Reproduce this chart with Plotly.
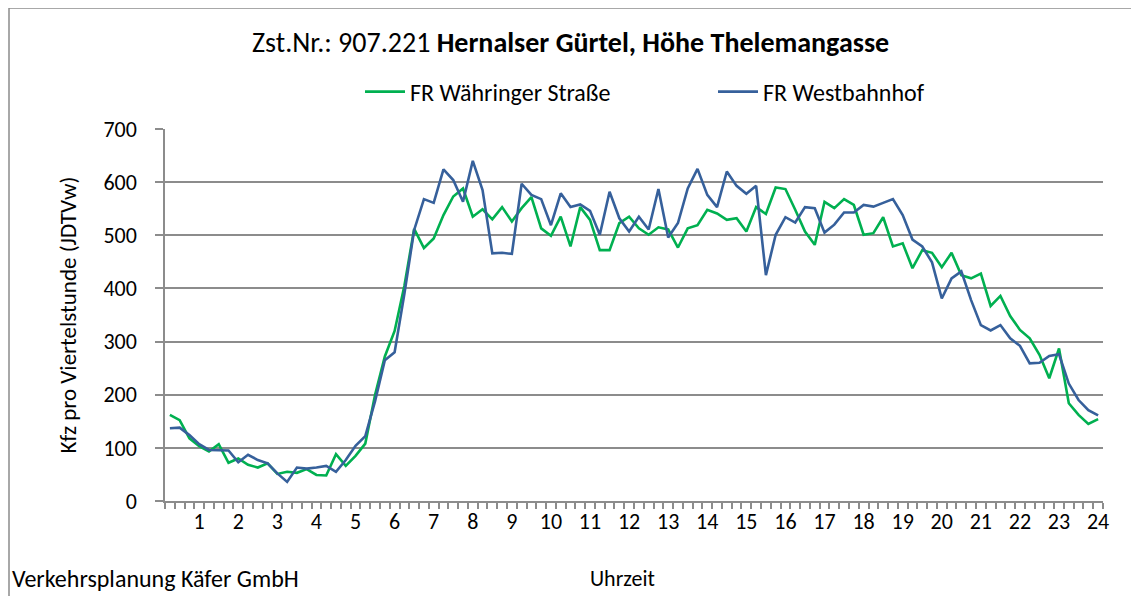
import plotly.graph_objects as go

# quarter-hour slots: 0:15 ... 24:00 (in hours)
quarter_hours = [q / 4 for q in range(1, 97)]

hour_ticks = list(range(1, 25))
hour_labels = [str(h) for h in hour_ticks]

fr_waehringer = [
    162, 152, 118, 103, 93, 107, 72, 80, 68, 63, 71, 51,
    55, 53, 60, 49, 48, 88, 66, 85, 108, 200, 272, 320,
    405, 512, 476, 494, 538, 573, 588, 535, 549, 530, 553, 526,
    551, 572, 513, 499, 535, 479, 553, 529, 472, 472, 523, 535,
    513, 501, 515, 511, 477, 513, 519, 548, 541, 529, 532, 507,
    553, 540, 590, 587, 548, 507, 482, 563, 551, 568, 557, 501,
    504, 534, 479, 485, 438, 472, 467, 440, 467, 425, 419, 428,
    367, 386, 348, 322, 306, 275, 231, 287, 184, 162, 145, 154,
]

fr_westbahnhof = [
    137, 138, 124, 107, 96, 96, 95, 73, 87, 77, 71, 52,
    36, 63, 61, 63, 66, 55, 77, 104, 122, 188, 265, 280,
    390, 510, 568, 561, 624, 604, 563, 640, 585, 466, 467, 465,
    597, 576, 568, 519, 579, 553, 558, 546, 501, 582, 532, 507,
    535, 511, 587, 496, 523, 588, 625, 576, 553, 620, 593, 578,
    593, 425, 501, 534, 524, 553, 551, 505, 520, 543, 543, 557,
    554, 561, 568, 538, 492, 479, 449, 381, 419, 432, 378, 331,
    321, 331, 306, 292, 259, 260, 273, 276, 221, 190, 171, 161,
]

FONT = "Carlito, Calibri, Lato, sans-serif"
GRID = "#8c8c8c"

fig = go.Figure()
fig.add_trace(go.Scatter(
    x=quarter_hours, y=fr_waehringer, mode="lines", name="FR Währinger Straße",
    line=dict(color="#00B050", width=2.6),
))
fig.add_trace(go.Scatter(
    x=quarter_hours, y=fr_westbahnhof, mode="lines", name="FR Westbahnhof",
    line=dict(color="#36609B", width=2.6),
))

# screen plot area: x 165..1103, y 129..501 (page has an 8px body margin)
OFF = 8
PL, PR, PT, PB = 165, 1103, 129, 501
W, H = 1139, 596
pw, ph = PR - PL, PB - PT
L = PL - OFF
T = PT - OFF
R = W - L - pw
B = H - T - ph


def px(x):
    return (x - PL) / pw


def py(y):
    return (PB - y) / ph


fig.update_layout(
    width=W, height=H,
    margin=dict(l=L, r=R, t=T, b=B),
    paper_bgcolor="white", plot_bgcolor="white",
    font=dict(family=FONT, size=22, color="#000000"),
    showlegend=True,
    legend=dict(
        orientation="h", x=px(360), xanchor="left", y=py(92), yanchor="middle",
        font=dict(size=24), itemwidth=40, entrywidth=298, entrywidthmode="pixels",
        bgcolor="rgba(0,0,0,0)",
    ),
    xaxis=dict(
        range=[0.125, 24.125], tickmode="array", tickvals=hour_ticks, ticktext=hour_labels,
        showgrid=False, zeroline=False, showline=True, linecolor=GRID, linewidth=1.5,
        ticks="",
        minor=dict(tick0=0.125, dtick=0.25, ticks="outside", ticklen=6,
                   tickcolor=GRID, tickwidth=1.5, showgrid=False),
        tickfont=dict(size=22),
    ),
    yaxis=dict(
        range=[0, 700], dtick=100, showgrid=True, gridcolor=GRID, gridwidth=1.5,
        zeroline=False, showline=True, linecolor=GRID, linewidth=1.5,
        ticks="outside", ticklen=8, tickcolor=GRID, tickwidth=1.5,
        ticklabelstandoff=14,
        tickfont=dict(size=22),
        title=dict(text="Kfz pro Viertelstunde (JDTVw)", font=dict(size=23), standoff=20),
    ),
)

fig.add_annotation(
    xref="paper", yref="paper", x=px(570), y=py(42), xanchor="center", yanchor="middle",
    text="Zst.Nr.: 907.221 <b>Hernalser Gürtel, Höhe Thelemangasse</b>",
    showarrow=False, font=dict(size=28, family=FONT),
)
fig.add_annotation(
    xref="paper", yref="paper", x=px(10), y=py(578), xanchor="left", yanchor="middle",
    text="Verkehrsplanung Käfer GmbH", showarrow=False, font=dict(size=24, family=FONT),
)
fig.add_annotation(
    xref="paper", yref="paper", x=px(622), y=py(578), xanchor="center", yanchor="middle",
    text="Uhrzeit", showarrow=False, font=dict(size=22, family=FONT),
)
fig.add_shape(
    type="rect", xref="paper", yref="paper",
    x0=px(9), x1=px(1136), y0=py(606), y1=py(8),
    line=dict(color="#8c8c8c", width=1.5), fillcolor="rgba(0,0,0,0)", layer="below",
)

fig.write_html("out.html")
